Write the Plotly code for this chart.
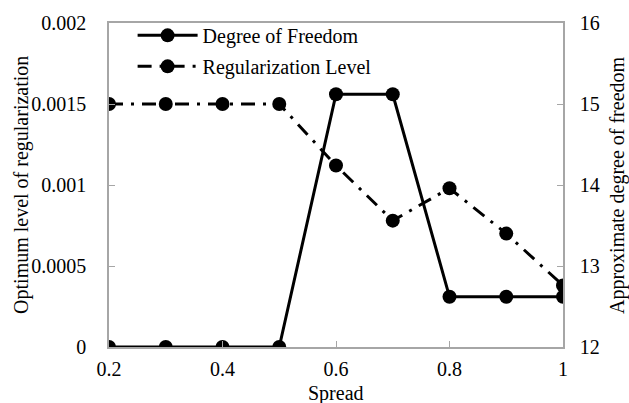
import plotly.graph_objects as go

spread = [0.2, 0.3, 0.4, 0.5, 0.6, 0.7, 0.8, 0.9, 1.0]
dof = [12, 12, 12, 12, 15.12, 15.12, 12.62, 12.62, 12.62]
reg = [0.0015, 0.0015, 0.0015, 0.0015, 0.00112, 0.00078, 0.00098, 0.00070, 0.00038]

FONT = "Liberation Serif, Times New Roman, serif"
AX = "#a6a6a6"
FS = 20
F = dict(family=FONT, size=FS, color="black")

fig = go.Figure()
fig.add_trace(go.Scatter(x=spread, y=dof, name="Degree of Freedom", yaxis="y2",
                         mode="lines+markers", legendgroup="a",
                         line=dict(color="black", width=3),
                         marker=dict(color="black", size=14)))
fig.add_trace(go.Scatter(x=spread, y=reg, name="Regularization Level", yaxis="y",
                         mode="lines+markers", legendgroup="b",
                         line=dict(color="black", width=3, dash="14px,8px,3px,8px"),
                         marker=dict(color="black", size=14)))

fig.update_layout(
    width=629, height=403,
    margin=dict(l=109, r=66, t=23, b=56, autoexpand=False),
    paper_bgcolor="white", plot_bgcolor="white",
    font=F,
    showlegend=True,
    legend=dict(x=0.052, y=1.022, xanchor="left", yanchor="top",
                bgcolor="rgba(0,0,0,0)", font=F,
                itemwidth=60, tracegroupgap=2, traceorder="grouped"),
    xaxis=dict(range=[0.2, 1.0], tickvals=[0.2, 0.4, 0.6, 0.8, 1.0],
               ticktext=["0.2", "0.4", "0.6", "0.8", "1"], tickfont=F,
               automargin=False,
               showgrid=False, zeroline=False, showline=True, linecolor=AX,
               linewidth=1.5, mirror=True, ticks="inside", ticklen=6, tickcolor=AX,
               ticklabelstandoff=3),
    yaxis=dict(range=[0, 0.002], tickvals=[0, 0.0005, 0.001, 0.0015, 0.002],
               ticktext=["0", "0.0005", "0.001", "0.0015", "0.002"], tickfont=F,
               automargin=False,
               showgrid=False, zeroline=False, showline=True, linecolor=AX,
               linewidth=1.5, ticks="inside", ticklen=6, tickcolor=AX,
               ticklabelstandoff=17),
    yaxis2=dict(range=[12, 16], tickvals=[12, 13, 14, 15, 16], tickfont=F,
                overlaying="y", side="right", automargin=False,
                showgrid=False, zeroline=False, showline=True, linecolor=AX,
                linewidth=1.5, ticks="inside", ticklen=6, tickcolor=AX,
                ticklabelstandoff=11),
    annotations=[
        dict(text="Spread", xref="paper", yref="paper", x=0.5, y=-0.142,
             xanchor="center", yanchor="middle", showarrow=False, font=F),
        dict(text="Optimum level of regularization", xref="paper", yref="paper",
             x=-0.194, y=0.5, xanchor="center", yanchor="middle",
             textangle=-90, showarrow=False, font=F),
        dict(text="Approximate degree of freedom", xref="paper", yref="paper",
             x=1.119, y=0.5, xanchor="center", yanchor="middle",
             textangle=-90, showarrow=False, font=F),
    ],
)

fig.write_html("out.html", config={"displayModeBar": False},
               post_script="document.body.style.margin='0';document.body.style.overflow='hidden';")
